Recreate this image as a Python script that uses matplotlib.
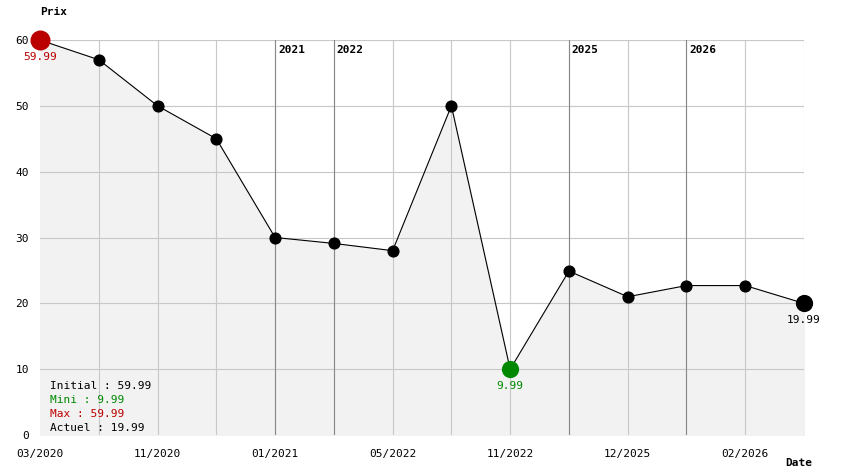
import matplotlib
matplotlib.use("Agg")
import matplotlib.pyplot as plt

prices = [59.99, 57.0, 50.0, 45.0, 30.0, 29.1, 28.0, 50.0, 9.99, 24.9, 21.0, 22.7, 22.7, 19.99]
tick_idx = [0, 2, 4, 6, 8, 10, 12]
tick_labels = ["03/2020", "11/2020", "01/2021", "05/2022", "11/2022", "12/2025", "02/2026"]
year_idx = [4, 5, 9, 11]
year_labels = ["2021", "2022", "2025", "2026"]

plt.rcParams['font.family'] = ['DejaVu Sans Mono']
fig = plt.figure(figsize=(8.44, 4.74), dpi=100)
ax = fig.add_axes([40/844, 39/474, 764/844, 395/474])
x = list(range(len(prices)))
ax.set_xlim(0, len(prices)-1)
ax.set_ylim(0, 60)
for s in ax.spines.values():
    s.set_visible(False)
ax.fill_between(x, prices, 0, color='#f2f2f2', zorder=0)
for i in x[1:]:
    ax.axvline(i, color='#c8c8c8', lw=0.8, zorder=1)
for v in range(10, 61, 10):
    ax.axhline(v, color='#c8c8c8', lw=0.8, zorder=1)
for i, lab in zip(year_idx, year_labels):
    ax.axvline(i, color='#888888', lw=0.8, zorder=1)
    ax.text(i + 0.05, 58.5, lab, fontsize=8, fontweight='bold', va='center', ha='left')
ax.plot(x, prices, color='black', lw=0.8, zorder=2)
ax.scatter(x[1:-1], prices[1:-1], s=60, color='black', zorder=3)
imin = prices.index(min(prices))
ax.scatter([0], [prices[0]], s=180, color='#bb0000', zorder=4, clip_on=False)
ax.scatter([imin], [prices[imin]], s=130, color='#008800', zorder=4)
ax.scatter([x[-1]], [prices[-1]], s=130, color='black', zorder=4, clip_on=False)
ax.text(0, prices[0]-1.8, f"{prices[0]:.2f}", color='#bb0000', fontsize=8, ha='center', va='top')
ax.text(imin, prices[imin]-1.8, f"{prices[imin]:.2f}", color='#008800', fontsize=8, ha='center', va='top')
ax.text(x[-1], prices[-1]-1.8, f"{prices[-1]:.2f}", color='black', fontsize=8, ha='center', va='top')
ax.set_xticks(tick_idx, tick_labels, fontsize=8)
ax.set_yticks(range(0, 61, 10), [str(v) for v in range(0, 61, 10)], fontsize=8)
ax.tick_params(axis='x', length=0, pad=10)
ax.tick_params(axis='y', length=0, pad=8)
ax.grid(False)
fig.text(40/844, 1-12/474, "Prix", fontsize=8, fontweight='bold', ha='left', va='center')
fig.text(812/844, 1-463/474, "Date", fontsize=8, fontweight='bold', ha='right', va='center')
legend = [("Initial : 59.99", 'black'), ("Mini : 9.99", '#008800'),
          ("Max : 59.99", '#bb0000'), ("Actuel : 19.99", 'black')]
for k, (t, c) in enumerate(legend):
    fig.text(50/844, 1-(386+k*14)/474, t, color=c, fontsize=8, ha='left', va='center')
fig.savefig("out.png", dpi=100)
